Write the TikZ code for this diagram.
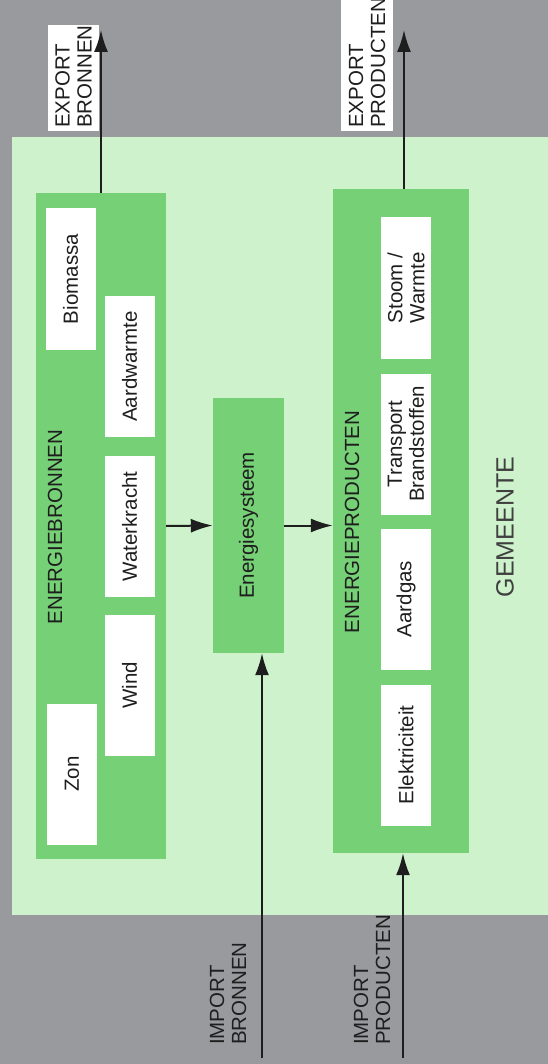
\documentclass[tikz,border=0pt]{standalone}
\usepackage{fontspec}
\setmainfont{Liberation Sans}
\usepackage{tikz}
\usetikzlibrary{arrows.meta}

\definecolor{bggrey}{RGB}{152,154,158}
\definecolor{areagreen}{RGB}{206,243,204}
\definecolor{blockgreen}{RGB}{118,208,118}
\definecolor{inkgrey}{RGB}{30,30,30}

\begin{document}
\begin{tikzpicture}[
    x=1pt, y=-1pt,
    every node/.style={rotate=90, inner sep=0pt, font=\fontsize{20.5}{22}\selectfont, text=inkgrey},
    block/.style={rectangle, fill=blockgreen},
    entry/.style={rectangle, fill=white, align=center, minimum width=141pt, minimum height=50pt},
    tag/.style={anchor=west, align=left},
    arrow/.style={-{Latex[length=22pt,width=14pt]}, line width=2pt, draw=inkgrey}
]

% Background
\fill[bggrey] (0,0) rectangle (548,1064);
\fill[areagreen] (12,137) rectangle (548,915);
\useasboundingbox (0,0) rectangle (548,1064);
\node[font=\fontsize{25}{28}\selectfont, text=black!75] (gemeente) at (505,527) {GEMEENTE};

% Energiebronnen
\node[block, minimum width=666pt, minimum height=130pt] (bronnen) at (101,526) {};
\node (bronnentitle) at (55,527) {ENERGIEBRONNEN};
\node[entry] (biomassa) at (70.5,279) {Biomassa};
\node[entry] (aardwarmte) at (129.5,366.5) {Aardwarmte};
\node[entry] (waterkracht) at (129.5,526.5) {Waterkracht};
\node[entry] (wind) at (129.5,685.5) {Wind};
\node[entry] (zon) at (72,774) {Zon};

% Energiesysteem
\node[block, minimum width=255pt, minimum height=71pt] (systeem) at (248.5,525.5) {Energiesysteem};

% Energieproducten
\node[block, minimum width=664pt, minimum height=136pt] (producten) at (401,521) {};
\node (productentitle) at (352,522) {ENERGIEPRODUCTEN};
\node[entry] (stoom) at (406,288) {Stoom /\\Warmte};
\node[entry] (transport) at (406,444) {Transport\\Brandstoffen};
\node[entry] (aardgas) at (406,599) {Aardgas};
\node[entry] (elektriciteit) at (406,755) {Elektriciteit};

% Import / export
\node[tag, fill=white, inner sep=3pt, text width=100pt, minimum height=51pt] (exportb) at (73.5,131) {EXPORT\\BRONNEN};
\node[tag, fill=white, inner sep=3pt, text width=125pt, minimum height=52pt] (exportp) at (367,131) {EXPORT\\PRODUCTEN};
\node[tag] (importb) at (228,1045) {IMPORT\\BRONNEN};
\node[tag] (importp) at (372,1045) {IMPORT\\PRODUCTEN};
\coordinate (eb) at (101,30);
\coordinate (ep) at (404,30);
\coordinate (ib) at (262,1058);
\coordinate (ip) at (403,1058);

% Arrows
\draw[arrow] (bronnen.east) -- (eb);
\draw[arrow] (producten.east -| ep) -- (ep);
\draw[arrow] (ib) -- (ib |- systeem.west);
\draw[arrow] (ip) -- (ip |- producten.west);
\draw[arrow] (bronnen.south) -- (systeem.north);
\draw[arrow] (systeem.south) -- (systeem.south -| producten.north);

\end{tikzpicture}
\end{document}
